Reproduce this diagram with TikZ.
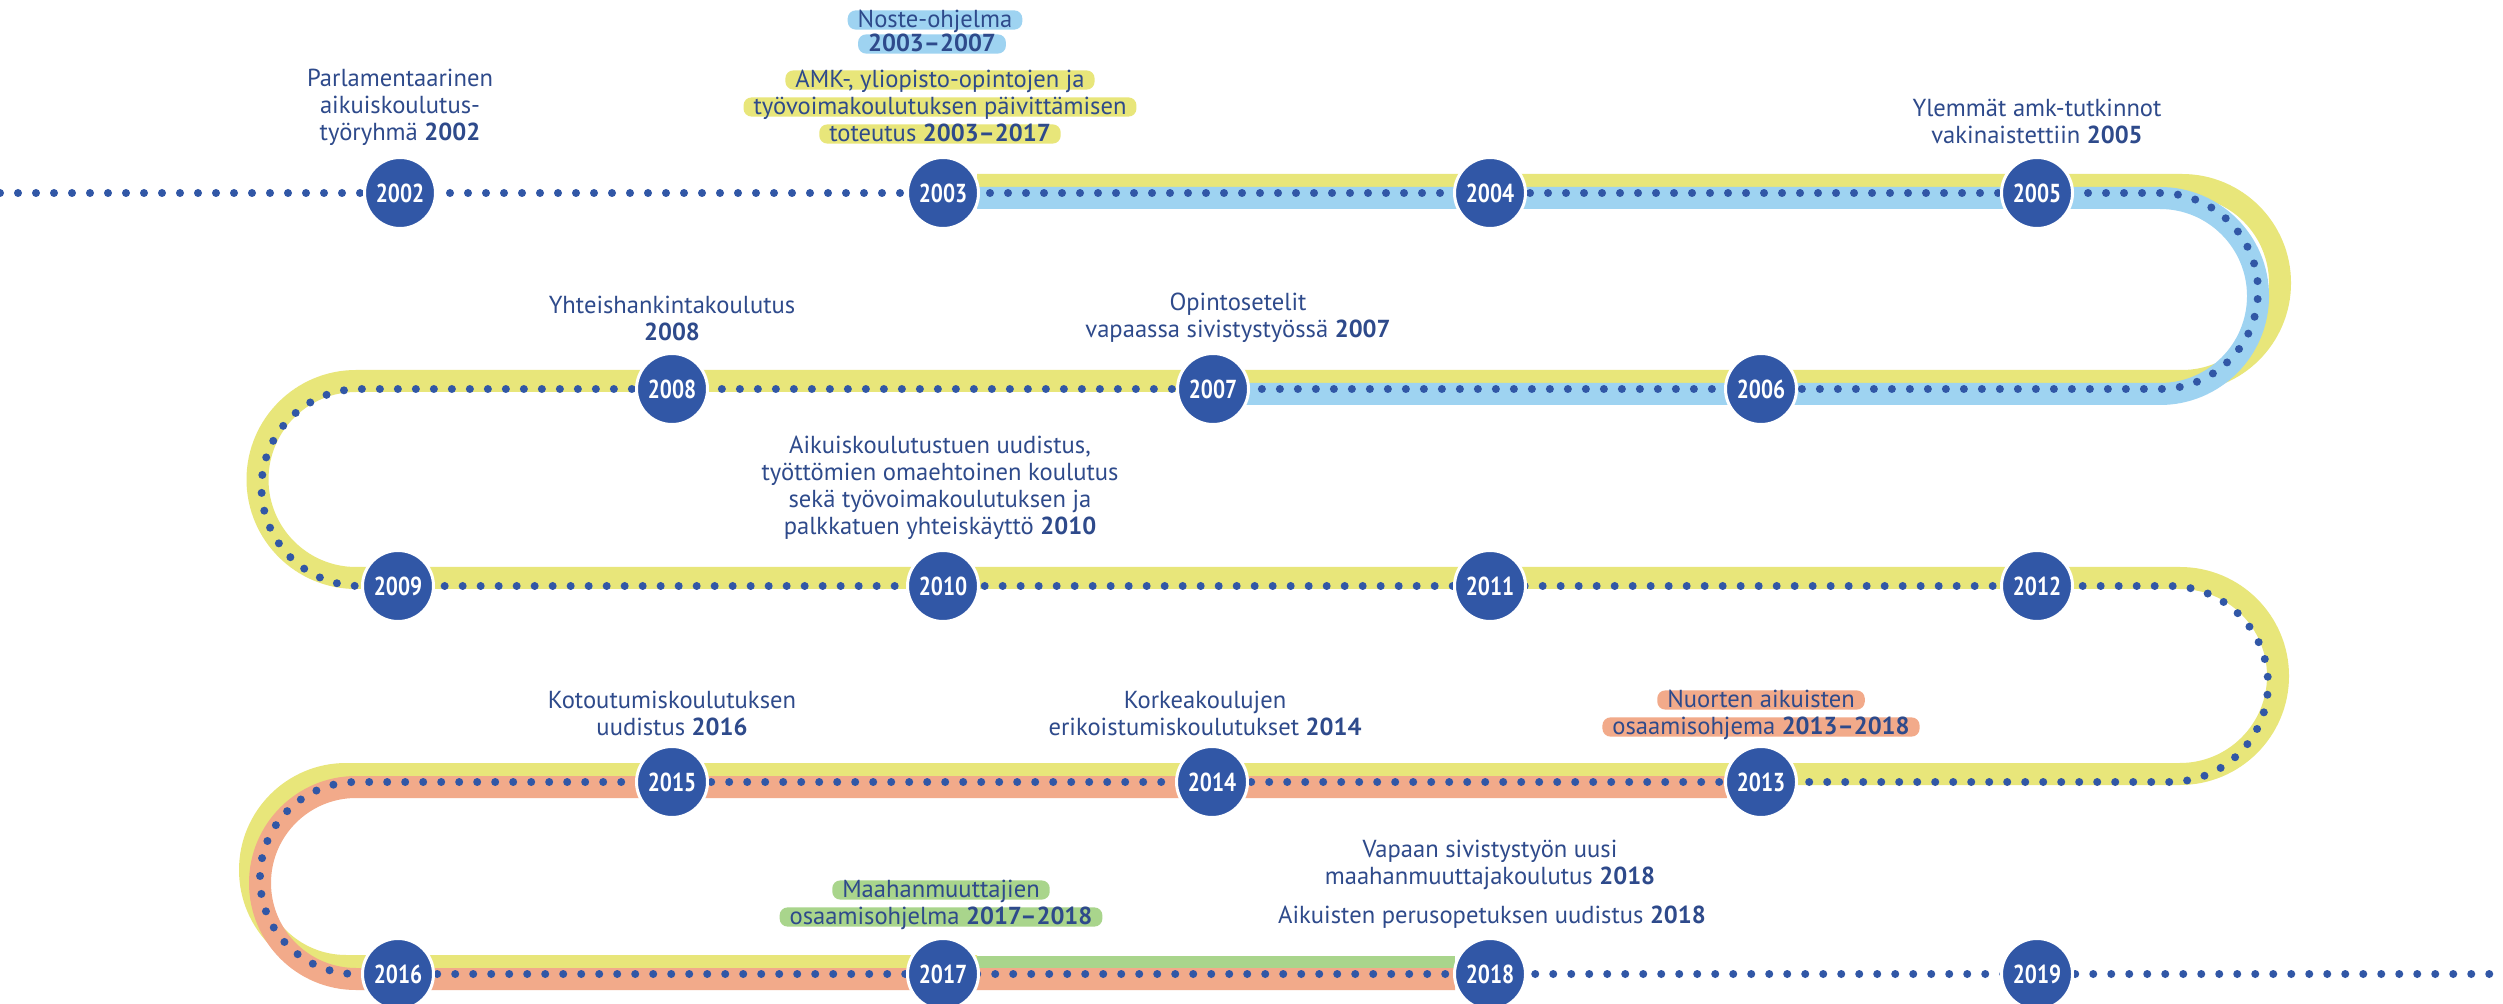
\documentclass[tikz,border=0pt]{standalone}
\usepackage{fontspec}
\setmainfont{PT Sans}
\newfontfamily\yearfont{PT Sans}[FakeStretch=0.82]
\definecolor{navy}{HTML}{3157A6}
\definecolor{txt}{HTML}{2E4A8B}
\definecolor{bandY}{HTML}{E8E67A}
\definecolor{bandB}{HTML}{9ED3F1}
\definecolor{bandO}{HTML}{F2AA8A}
\definecolor{bandG}{HTML}{A9D58C}
\begin{document}
\begin{tikzpicture}[x=0.5pt,y=-0.5pt,
  yr/.style={circle, fill=navy, draw=white, line width=1.5pt, minimum size=35.5pt, inner sep=0pt,
    text=white, font=\yearfont\bfseries\fontsize{13}{13}\selectfont},
  lbl/.style={align=center, text=txt, inner sep=0pt, font=\fontsize{12.3}{13.5}\selectfont},
  hilite/.style={fill=#1, rounded corners=4pt, inner xsep=5pt, inner ysep=0pt,
    text height=8.4pt, text depth=1.2pt, text=txt, font=\fontsize{12.3}{13.5}\selectfont},
  band/.style={line width=11pt, line cap=butt},
  dotline/.style={navy, line width=4pt, line cap=round, dash pattern=on 0pt off 9pt}
]
\fill[white] (0,0) rectangle (2503,1004);
\useasboundingbox (0,0) rectangle (2503,1004);

% yellow band
\draw[band, bandY] (977,185) -- (2182,185)
  .. controls (2236.1,185) and (2280,228.9) .. (2280,283)
  .. controls (2280,337.1) and (2236.1,381) .. (2182,381)
  -- (356,381)
  .. controls (301.6,381) and (257.5,425.1) .. (257.5,479.5)
  .. controls (257.5,533.9) and (301.6,578) .. (356,578)
  -- (2180,578)
  .. controls (2234.1,578) and (2278,621.9) .. (2278,676)
  .. controls (2278,730.1) and (2234.1,774) .. (2180,774)
  -- (346,774)
  .. controls (293,774) and (250,817) .. (250,870)
  .. controls (250,923) and (293,966) .. (346,966)
  -- (977,966);
% green band
\draw[band, bandG, line width=10pt] (977,966) -- (1455,966);
% blue band
\draw[band, bandB] (977,198) -- (2160,198)
  .. controls (2214.1,198) and (2258,241.9) .. (2258,296)
  .. controls (2258,350.1) and (2214.1,394) .. (2160,394)
  -- (1220,394);
% orange band
\draw[band, bandO] (1727,787) -- (356,787)
  .. controls (303,787) and (260,830) .. (260,883)
  .. controls (260,936) and (303,979) .. (356,979)
  -- (1455,979);

% dotted timeline
\coordinate (tstart) at (0,193);
\coordinate (tend) at (2510,974);
\draw[dotline] (tstart) -- (2160,193)
  .. controls (2214.1,193) and (2258,236.9) .. (2258,291)
  .. controls (2258,345.1) and (2214.1,389) .. (2160,389)
  -- (360,389)
  .. controls (305.6,389) and (261.5,433.1) .. (261.5,487.5)
  .. controls (261.5,541.9) and (305.6,586) .. (360,586)
  -- (2170,586)
  .. controls (2224.1,586) and (2268,629.9) .. (2268,684)
  .. controls (2268,738.1) and (2224.1,782) .. (2170,782)
  -- (356,782)
  .. controls (303,782) and (260,825) .. (260,878)
  .. controls (260,931) and (303,974) .. (356,974)
  -- (tend);

% year circles
\node[yr] (y2002) at (400,193) {2002};
\node[yr] (y2003) at (943,193) {2003};
\node[yr] (y2004) at (1490,193) {2004};
\node[yr] (y2005) at (2037,193) {2005};
\node[yr] (y2008) at (672,389) {2008};
\node[yr] (y2007) at (1213,389) {2007};
\node[yr] (y2006) at (1761,389) {2006};
\node[yr] (y2009) at (398,586) {2009};
\node[yr] (y2010) at (943,586) {2010};
\node[yr] (y2011) at (1490,586) {2011};
\node[yr] (y2012) at (2037,586) {2012};
\node[yr] (y2015) at (672,782) {2015};
\node[yr] (y2014) at (1212,782) {2014};
\node[yr] (y2013) at (1761,782) {2013};
\node[yr] (y2016) at (398,974) {2016};
\node[yr] (y2017) at (943,974) {2017};
\node[yr] (y2018) at (1490,974) {2018};
\node[yr] (y2019) at (2037,974) {2019};

% labels
\node[lbl] (l2002) at (400,107) {Parlamentaarinen\\aikuiskoulutus-\\työryhmä \textbf{2002}};
\node[hilite=bandB] (noste1) at (935,20) {Noste-ohjelma};
\node[hilite=bandB] (noste2) at (932,44) {\textbf{2003–2007}};
\node[hilite=bandY] (amk1) at (940,80) {AMK-, yliopisto-opintojen ja};
\node[hilite=bandY] (amk2) at (940,107) {työvoimakoulutuksen päivittämisen};
\node[hilite=bandY] (amk3) at (940,134) {toteutus \textbf{2003–2017}};
\node[lbl] (l2005) at (2037,121) {Ylemmät amk-tutkinnot\\vakinaistettiin \textbf{2005}};
\node[lbl] (l2008) at (672,318) {Yhteishankintakoulutus\\\textbf{2008}};
\node[lbl] (l2007) at (1238,318) {Opintosetelit\\vapaassa sivistystyössä \textbf{2007}};
\node[lbl] (l2010) at (940,488) {Aikuiskoulutustuen uudistus,\\työttömien omaehtoinen koulutus\\sekä työvoimakoulutuksen ja\\palkkatuen yhteiskäyttö \textbf{2010}};
\node[lbl] (l2016) at (672,713) {Kotoutumiskoulutuksen\\uudistus \textbf{2016}};
\node[lbl] (l2014) at (1205,713) {Korkeakoulujen\\erikoistumiskoulutukset \textbf{2014}};
\node[hilite=bandO] (nuo1) at (1761,700) {Nuorten aikuisten};
\node[hilite=bandO] (nuo2) at (1761,727) {osaamisohjema \textbf{2013–2018}};
\node[hilite=bandG] (maa1) at (941,890) {Maahanmuuttajien};
\node[hilite=bandG] (maa2) at (941,917) {osaamisohjelma \textbf{2017–2018}};
\node[lbl] (l2018a) at (1490,865) {Vapaan sivistystyön uusi\\maahanmuuttajakoulutus \textbf{2018}};
\node[lbl] (l2018b) at (1492,917) {Aikuisten perusopetuksen uudistus \textbf{2018}};
\end{tikzpicture}
\end{document}
